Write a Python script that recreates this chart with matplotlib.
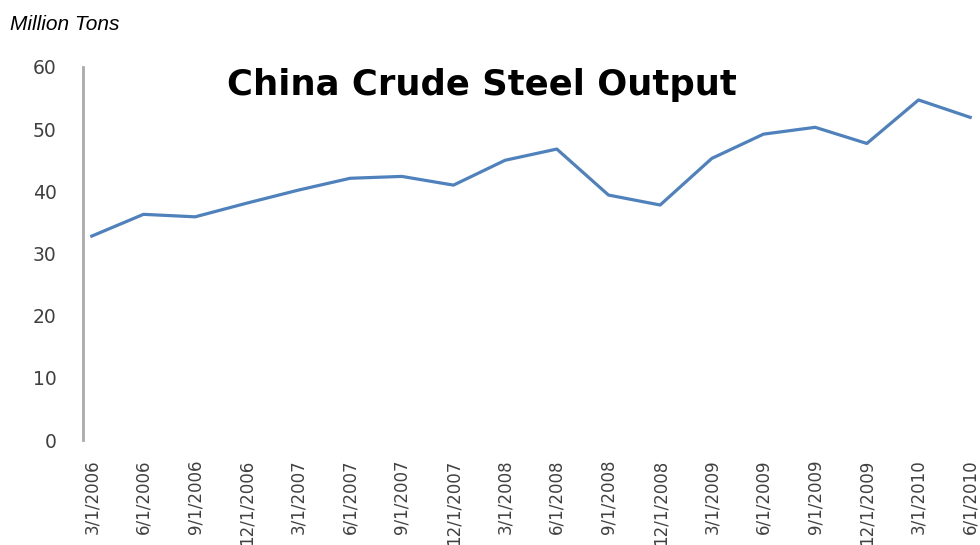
import matplotlib
matplotlib.use("Agg")
import matplotlib.pyplot as plt

dates = ["3/1/2006", "6/1/2006", "9/1/2006", "12/1/2006",
         "3/1/2007", "6/1/2007", "9/1/2007", "12/1/2007",
         "3/1/2008", "6/1/2008", "9/1/2008", "12/1/2008",
         "3/1/2009", "6/1/2009", "9/1/2009", "12/1/2009",
         "3/1/2010", "6/1/2010"]
output = [32.8, 36.3, 35.9, 38.1, 40.2, 42.1, 42.4, 41.0, 45.0, 46.8,
          39.4, 37.8, 45.3, 49.2, 50.3, 47.7, 54.7, 51.9]
yticks = [0, 10, 20, 30, 40, 50, 60]

fig = plt.figure(figsize=(9.8, 5.45), dpi=100)
ax = fig.add_axes([83/980, 1-440/545, 1-83/980, (440-67)/545])

x = list(range(len(dates)))
ax.plot(x, output, color="#4F81BD", linewidth=2.3, solid_joinstyle="round")

ax.set_xlim(-0.17, 17.19)
ax.set_ylim(0, 60)
ax.set_yticks(yticks)
ax.set_yticklabels([str(v) for v in yticks], color="#404040", fontsize=13.5)
ax.set_xticks(x)
ax.set_xticklabels(dates, rotation=90, color="#404040", fontsize=12)
for lab in ax.get_xticklabels():
    lab.set_va("top")
    lab.set_ha("center")
ax.tick_params(axis="both", length=0)
ax.tick_params(axis="x", pad=14)
ax.tick_params(axis="y", pad=19)

for s in ["top", "right", "bottom"]:
    ax.spines[s].set_visible(False)
ax.spines["left"].set_color("#AAAAAA")
ax.spines["left"].set_linewidth(2)

fig.text(482/980, 1-85/545, "China Crude Steel Output", ha="center", va="center",
         fontsize=25.5, fontweight="bold", color="black")
fig.text(10/980, 1-25/545, "Million Tons", ha="left", va="center",
         fontsize=15, fontstyle="italic", family="Liberation Sans", color="black")

fig.savefig("out.png", dpi=100)
